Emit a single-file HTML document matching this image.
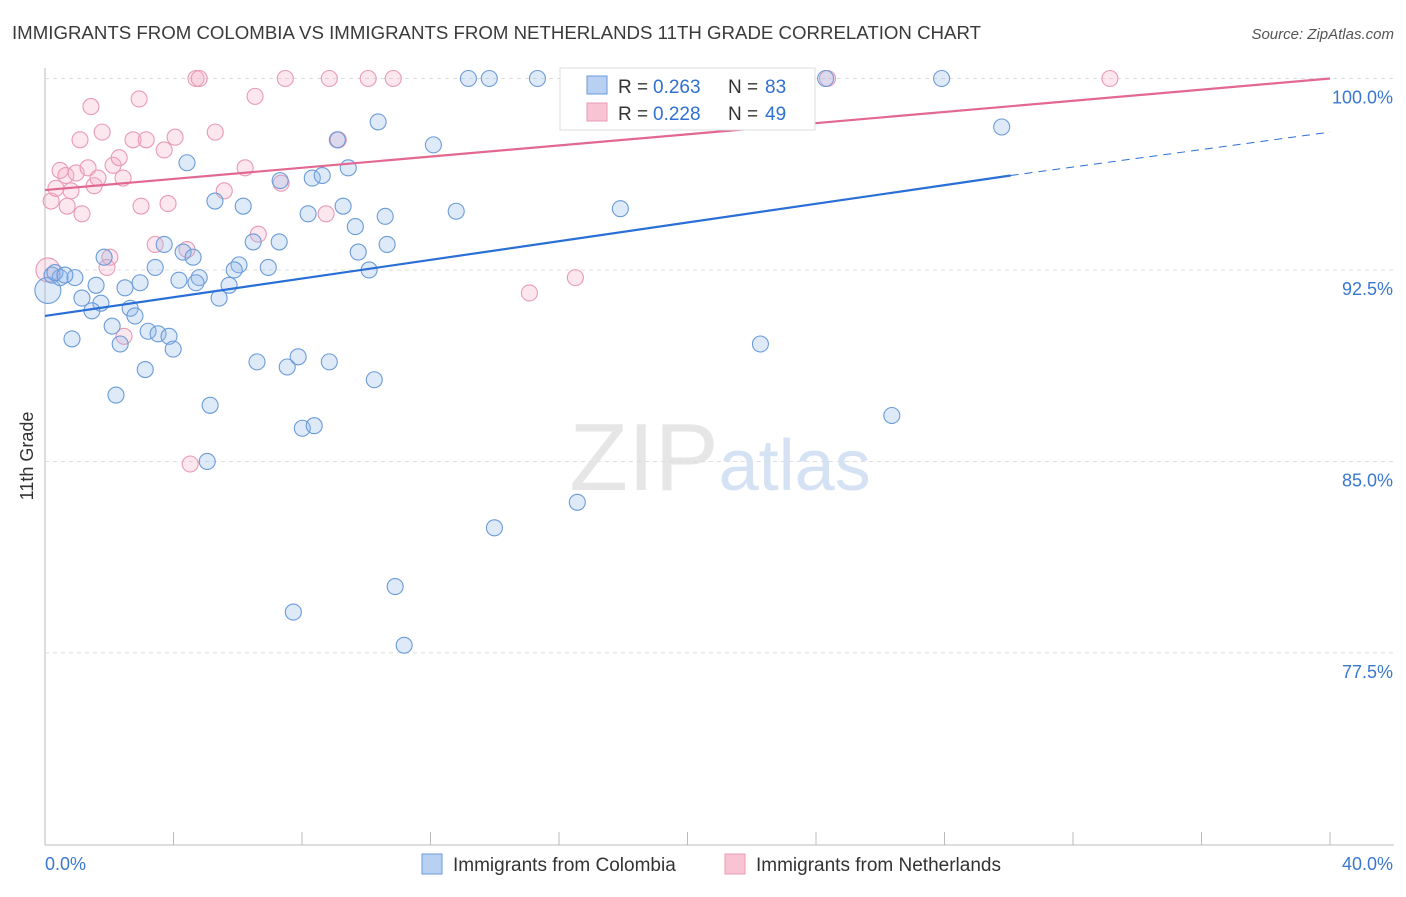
<!DOCTYPE html>
<html><head><meta charset="utf-8">
<style>
body{margin:0;background:#fff;font-family:"Liberation Sans",sans-serif;}
svg text{font-family:"Liberation Sans",sans-serif;}
</style></head>
<body>
<svg id="chart" width="1406" height="892" viewBox="0 0 1406 892" xmlns="http://www.w3.org/2000/svg">
<text x="12" y="39" font-size="18" fill="#3a3a3a" textLength="969" lengthAdjust="spacingAndGlyphs">IMMIGRANTS FROM COLOMBIA VS IMMIGRANTS FROM NETHERLANDS 11TH GRADE CORRELATION CHART</text>
<text x="1394" y="39" font-size="15" fill="#555" text-anchor="end" font-style="italic">Source: ZipAtlas.com</text>
<text transform="translate(33,456) rotate(-90)" font-size="18" fill="#333" text-anchor="middle">11th Grade</text>
<text x="720" y="490" font-size="96" fill="#e6e6e6" text-anchor="middle" font-family="Liberation Serif">ZIP<tspan fill="#d4e2f4" font-family="Liberation Sans" font-size="72">atlas</tspan></text>
<g id="grid"></g>
<g id="marks"></g>
<g id="legend">
<rect x="560" y="68" width="255" height="62" fill="#fff" stroke="#ddd"/>
<rect x="587" y="76" width="20" height="18" fill="#b8d0f2" stroke="#6a9bd8"/>
<text x="618" y="93" font-size="19" fill="#333">R =</text>
<text x="653" y="93" font-size="19" fill="#3070d0">0.263</text>
<text x="728" y="93" font-size="19" fill="#333">N =</text>
<text x="765" y="93" font-size="19" fill="#3070d0">83</text>
<rect x="587" y="103" width="20" height="18" fill="#f8c4d4" stroke="#e89ab5"/>
<text x="618" y="120" font-size="19" fill="#333">R =</text>
<text x="653" y="120" font-size="19" fill="#3070d0">0.228</text>
<text x="728" y="120" font-size="19" fill="#333">N =</text>
<text x="765" y="120" font-size="19" fill="#3070d0">49</text>
</g>
<g>
<rect x="422" y="854" width="20" height="20" fill="#b8d0f2" stroke="#6a9bd8"/>
<text x="453" y="871" font-size="19" fill="#333">Immigrants from Colombia</text>
<rect x="725" y="854" width="20" height="20" fill="#f8c4d4" stroke="#e89ab5"/>
<text x="756" y="871" font-size="19" fill="#333">Immigrants from Netherlands</text>
</g>
</svg>
<script>
const yTicks=[100,92.5,85,77.5];
const yTickLabels=["100.0%","92.5%","85.0%","77.5%"];
const xTickLabels=["0.0%","40.0%"];
const blueX=[0.09,0.22,0.47,0.93,4.42,5.29,6.17,7.32,8.19,8.32,8.63,9.10,9.44,10.37,9.28,9.66,10.59,12.09,12.80,13.18,13.83,15.33,17.91,20.78,24.3,27.91,29.78,3.71,4.30,4.61,6.48,7.29,6.04,6.95,5.89,9.75,10.65,10.09,3.43,4.80,4.17,4.70,5.73,5.42,2.96,2.49,1.84,1.59,1.15,1.74,1.46,2.65,2.80,2.09,3.21,3.52,3.86,3.99,2.34,0.84,6.60,7.54,7.88,8.85,3.12,2.21,5.14,10.25,8.01,8.38,5.05,13.99,16.57,10.90,7.73,11.18,22.27,26.36,0.31,0.62];
const blueY=[91.7,92.3,92.2,92.2,96.7,95.2,95.0,96.0,94.7,96.1,96.2,97.6,96.5,98.3,95.0,94.2,94.6,97.4,94.8,100,100,100,94.9,100,100,100,98.1,93.5,93.2,93.0,93.6,93.6,92.7,92.6,92.5,93.2,93.5,92.5,92.6,92.2,92.1,92.0,91.9,91.4,92.0,91.8,93.0,91.9,91.4,91.2,90.9,91.0,90.7,90.3,90.1,90.0,89.9,89.4,89.6,89.8,88.9,88.7,89.1,88.9,88.6,87.6,87.2,88.2,86.3,86.4,85.0,82.4,83.4,80.1,79.1,77.8,89.6,86.8,92.4,92.3];
const pinkX=[0.19,0.34,0.47,0.81,0.65,0.97,1.15,0.69,1.09,1.43,1.34,1.53,1.78,1.65,2.12,2.31,2.43,2.93,2.74,3.15,2.99,3.71,3.83,4.05,3.43,4.42,4.70,4.80,5.30,5.58,6.23,6.54,6.64,7.48,7.35,8.85,9.13,8.75,10.06,10.84,2.02,1.93,2.46,4.52,15.08,16.51,24.36,33.15,0.09];
const pinkY=[95.2,95.7,96.4,95.6,96.2,96.3,94.7,95.0,97.6,98.9,96.5,95.8,97.9,96.1,96.6,96.9,96.1,99.2,97.6,97.6,95.0,97.2,95.1,97.7,93.5,93.3,100,100,97.9,95.6,96.5,99.3,93.9,100,95.9,100,97.6,94.7,100,100,93.0,92.6,89.9,84.9,91.6,92.2,100,100,92.5];
const blueTrend=[[0,90.7],[30.06,96.2],[40,97.9]];
const pinkTrend=[[0,95.63],[40,100]];

const X=v=>45+v*(1285/40);
const Y=v=>78.5+(100-v)*25.53;
const NS="http://www.w3.org/2000/svg";
const grid=document.getElementById('grid'), marks=document.getElementById('marks');
function mk(tag,attrs,parent){const e=document.createElementNS(NS,tag);for(const k in attrs)e.setAttribute(k,attrs[k]);parent.appendChild(e);return e;}
let ax=mk('line',{x1:45,y1:68,x2:45,y2:845,stroke:'#bbb'},grid);


let bx=mk('line',{x1:45,y1:845,x2:1394,y2:845,stroke:'#bbb'},grid);


for(let i=0;i<=10;i++){let t=mk('line',{x1:X(i*4),y1:832,x2:X(i*4),y2:845,stroke:'#bbb'},grid);

}
yTicks.forEach((v,i)=>{
 let g=mk('line',{x1:45,y1:Y(v),x2:1394,y2:Y(v),stroke:'#ddd','stroke-dasharray':'4,4'},grid);
 
 
 let t=mk('text',{x:1393,y:Y(v)+25,'font-size':18,fill:'#3a78d0','text-anchor':'end'},grid);t.textContent=yTickLabels[i];
 
 
});
let xl0=mk('text',{x:45,y:870,'font-size':18,fill:'#3a78d0'},grid);xl0.textContent=xTickLabels[0];


let xl1=mk('text',{x:1393,y:870,'font-size':18,fill:'#3a78d0','text-anchor':'end'},grid);xl1.textContent=xTickLabels[1];


pinkX.forEach((x,i)=>{let c=mk('circle',{cx:X(x),cy:Y(pinkY[i]),r:i==pinkX.length-1?12:8,fill:'rgba(245,175,198,0.3)',stroke:'#e89ab5','stroke-width':1.1},marks);

});
blueX.forEach((x,i)=>{let c=mk('circle',{cx:X(x),cy:Y(blueY[i]),r:i==0?13:8,fill:'rgba(150,185,235,0.3)',stroke:'#6a9bd8','stroke-width':1.1},marks);

});
let bl=mk('line',{x1:X(blueTrend[0][0]),y1:Y(blueTrend[0][1]),x2:X(blueTrend[1][0]),y2:Y(blueTrend[1][1]),stroke:'#2a6fd6','stroke-width':2.2},marks);


let bd=mk('line',{x1:X(blueTrend[1][0]),y1:Y(blueTrend[1][1]),x2:X(blueTrend[2][0]),y2:Y(blueTrend[2][1]),stroke:'#2a6fd6','stroke-width':1,'stroke-dasharray':'8,6'},marks);


let pl=mk('line',{x1:X(pinkTrend[0][0]),y1:Y(pinkTrend[0][1]),x2:X(pinkTrend[1][0]),y2:Y(pinkTrend[1][1]),stroke:'#e2688f','stroke-width':2.2},marks);


</script>
</body></html>
